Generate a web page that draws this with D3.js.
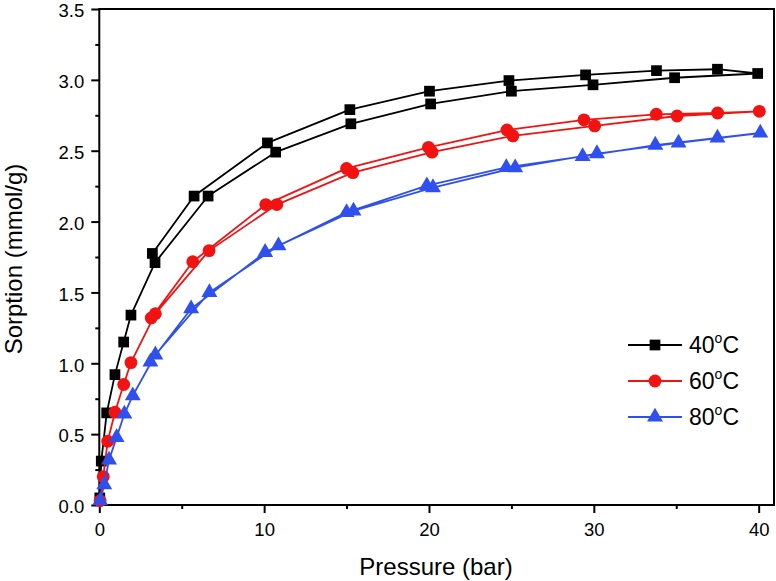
<!DOCTYPE html>
<html>
<head>
<meta charset="utf-8">
<script src="https://cdn.jsdelivr.net/npm/d3@7"></script>
<style>
  html, body { margin: 0; padding: 0; background: #fff; }
  svg { display: block; }
  text { font-family: Arial, "Liberation Sans", sans-serif; fill: #000; }
</style>
</head>
<body>
<svg id="chart" width="776" height="581"></svg>
<script>
// ---- Data (adsorption branch followed by desorption branch) ----
const seriesNames = ["40", "60", "80"];
const p40 = [0.03, 0.12, 0.45, 0.95, 1.48, 1.92, 3.38, 6.6, 10.7, 15.26, 20.1, 25.0, 29.95, 34.9, 39.94,
             37.5, 33.8, 29.5, 24.85, 20.03, 15.2, 10.2, 5.75, 3.22];
const s40 = [0.05, 0.31, 0.65, 0.92, 1.15, 1.34, 1.71, 2.18, 2.49, 2.69, 2.83, 2.92, 2.965, 3.015, 3.045,
             3.075, 3.065, 3.035, 2.995, 2.92, 2.79, 2.555, 2.18, 1.775];
const p60 = [0.05, 0.24, 0.51, 0.95, 1.48, 1.92, 3.4, 6.66, 10.77, 15.38, 20.18, 25.09, 30.05, 35.05, 40.04,
             37.51, 33.79, 29.4, 24.73, 19.97, 15.0, 10.1, 5.67, 3.15];
const s60 = [0.03, 0.2, 0.45, 0.655, 0.85, 1.005, 1.35, 1.795, 2.12, 2.345, 2.49, 2.605, 2.675, 2.745, 2.778,
             2.766, 2.757, 2.718, 2.646, 2.524, 2.375, 2.12, 1.717, 1.32];
const p80 = [0.05, 0.3, 0.59, 1.05, 1.52, 2.03, 3.4, 6.68, 10.87, 15.42, 20.24, 25.23, 30.19, 35.14, 40.1,
             37.5, 33.73, 29.32, 24.69, 19.87, 15.0, 10.06, 5.57, 3.1];
const s80 = [0.03, 0.143, 0.318, 0.477, 0.642, 0.771, 1.06, 1.5, 1.83, 2.075, 2.24, 2.38, 2.48, 2.555, 2.625,
             2.59, 2.54, 2.46, 2.382, 2.253, 2.065, 1.783, 1.385, 1.01];
const xTicks = [0, 10, 20, 30, 40];
const xMinor = [5, 15, 25, 35];
const yTicks = [0, 0.5, 1.0, 1.5, 2.0, 2.5, 3.0, 3.5];
const yMinor = [0.25, 0.75, 1.25, 1.75, 2.25, 2.75, 3.25];

// ---- Layout ----
const mLeft = 99.3, mRight = 774, mTop = 9, mBottom = 505;
const svg = d3.select("#chart");
const x = d3.scaleLinear().domain([0, 40.93]).range([mLeft, mRight]);
const y = d3.scaleLinear().domain([0, 3.5]).range([mBottom, mTop]);

const colors = ["#000000", "#f21212", "#2f50ef"];
const symbols = [d3.symbolSquare, d3.symbolCircle, d3.symbolTriangle];
const symSizes = [115, 130, 110];

// ---- Axes ----
svg.append("g").attr("transform", `translate(0,${mBottom})`)
  .call(d3.axisBottom(x).tickValues(xTicks).tickSize(8).tickPadding(10).tickFormat(d3.format("d")));
svg.append("g").attr("transform", `translate(0,${mBottom})`)
  .call(d3.axisBottom(x).tickValues(xMinor).tickSize(4).tickFormat(""));
const yAxisG = svg.append("g").attr("transform", `translate(${mLeft},0)`)
  .call(d3.axisLeft(y).tickValues(yTicks).tickSize(8).tickPadding(7).tickFormat(d3.format(".1f")));
svg.append("g").attr("transform", `translate(${mLeft},0)`)
  .call(d3.axisLeft(y).tickValues(yMinor).tickSize(4).tickFormat(""));

svg.selectAll(".domain").remove();
svg.selectAll(".tick line").attr("stroke", "#000").attr("stroke-width", 2);
svg.selectAll(".tick text").attr("font-size", 18.5).attr("fill", "#000")
  .style("font-family", "Arial, 'Liberation Sans', sans-serif");
yAxisG.selectAll(".tick text").attr("dy", "0.42em");

// frame
svg.append("rect")
  .attr("x", mLeft).attr("y", mTop)
  .attr("width", mRight - mLeft).attr("height", mBottom - mTop)
  .attr("fill", "none").attr("stroke", "#000").attr("stroke-width", 2);

// axis titles
svg.append("text")
  .attr("x", 436).attr("y", 575)
  .attr("text-anchor", "middle").attr("font-size", 24)
  .text("Pressure (bar)");
svg.append("text")
  .attr("transform", `translate(22,259) rotate(-90)`)
  .attr("text-anchor", "middle").attr("font-size", 24)
  .text("Sorption (mmol/g)");

// ---- Series ----
const data = [
  d3.zip(p40, s40),
  d3.zip(p60, s60),
  d3.zip(p80, s80)
];
const line = d3.line().x(d => x(d[0])).y(d => y(d[1]));
const plot = svg.append("g");
data.forEach((pts, i) => {
  const g = plot.append("g");
  g.append("path").datum(pts)
    .attr("d", line)
    .attr("fill", "none").attr("stroke", colors[i]).attr("stroke-width", 1.8)
    .attr("stroke-linejoin", "round");
  g.selectAll("path.m").data(pts).enter().append("path")
    .attr("class", "m")
    .attr("transform", d => `translate(${x(d[0])},${y(d[1])})`)
    .attr("d", d3.symbol().type(symbols[i]).size(symSizes[i]))
    .attr("fill", colors[i]);
});

// ---- Legend ----
const legY = [345, 381, 417];
seriesNames.forEach((name, i) => {
  const g = svg.append("g");
  g.append("line").attr("x1", 628).attr("x2", 682).attr("y1", legY[i]).attr("y2", legY[i])
    .attr("stroke", colors[i]).attr("stroke-width", 1.8);
  g.append("path").attr("transform", `translate(655,${legY[i]})`)
    .attr("d", d3.symbol().type(symbols[i]).size(symSizes[i])).attr("fill", colors[i]);
  const t = g.append("text").attr("x", 689).attr("y", legY[i] + 8).attr("font-size", 23);
  t.append("tspan").text(name);
  t.append("tspan").attr("font-size", 14).attr("dy", -10).text("o");
  t.append("tspan").attr("dy", 10).text("C");
});
</script>
</body>
</html>
